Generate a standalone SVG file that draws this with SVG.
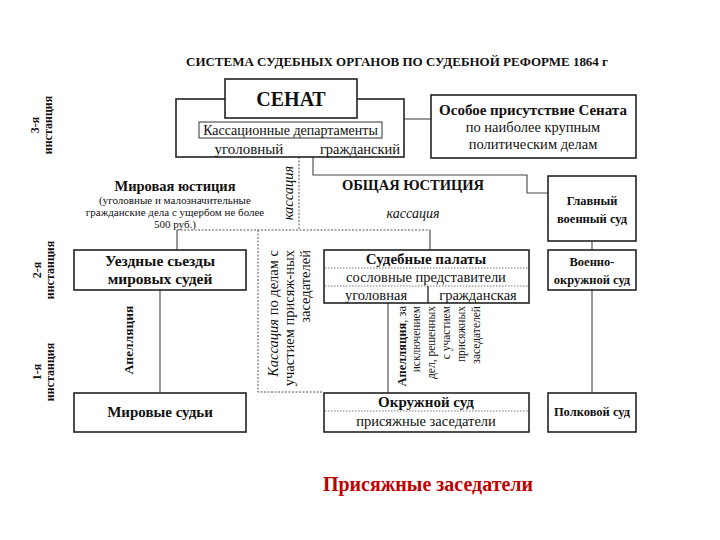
<svg xmlns="http://www.w3.org/2000/svg" width="720" height="540" viewBox="0 0 720 540">
<style>
.box{fill:#fff;stroke:#222;stroke-width:1.6}
.ln{fill:none;stroke:#444;stroke-width:1.1}
.dash{fill:none;stroke:#555;stroke-width:1;stroke-dasharray:2 1.5}
.dot{fill:none;stroke:#777;stroke-width:1;stroke-dasharray:1.5 1.5}
text{font-family:"Liberation Serif","Times New Roman",serif;fill:#111}
.b{font-weight:bold}
.c{text-anchor:middle}
.t15{font-size:15px}
.t14{font-size:14.5px}
.t13{font-size:12.5px}
.t12{font-size:12.5px}
.t11{font-size:11px}
.i{font-style:italic}
</style>
<rect width="720" height="540" fill="#fff"/>
<text x="397" y="66" class="b c t12" textLength="422" lengthAdjust="spacingAndGlyphs">СИСТЕМА СУДЕБНЫХ ОРГАНОВ ПО СУДЕБНОЙ РЕФОРМЕ 1864 г</text>

<g id="instance-labels" class="b" font-size="12">
<text transform="translate(39,125) rotate(-90)" class="c">3-я</text>
<text transform="translate(52,125) rotate(-90)" class="c">инстанция</text>
<text transform="translate(41,270) rotate(-90)" class="c">2-я</text>
<text transform="translate(54,270) rotate(-90)" class="c">инстанция</text>
<text transform="translate(41,372) rotate(-90)" class="c">1-я</text>
<text transform="translate(54,372) rotate(-90)" class="c">инстанция</text>
</g>

<g id="connectors">
<path class="ln" d="M313,138 V175 H527 V193 H548"/>
<path class="ln" d="M404,119 H431"/>
<path class="dash" d="M299,157 V230 M177,230 H430 M258,230 V392 H323"/>
<path class="ln" d="M177,230 V250 M430,230 V250"/>
<path class="ln" d="M160,290 V393"/>
<path class="ln" d="M388,303 V393"/>
<path class="ln" d="M592,241 V250 M592,290 V393"/>
</g>

<g id="senate">
<rect class="box" x="176" y="99" width="228" height="58"/>
<rect class="box" x="225" y="79" width="132" height="39"/>
<text x="291" y="106" class="b c" font-size="20">СЕНАТ</text>
<rect x="199" y="122" width="183" height="16" fill="#fff" stroke="#333" stroke-width="1"/>
<text x="290.5" y="135" class="c" font-size="14">Кассационные департаменты</text>
<text x="249" y="154" class="c" font-size="15">уголовный</text>
<text x="360" y="154" class="c" font-size="14.5">гражданский</text>
</g>

<g id="special-presence">
<rect class="box" x="431" y="95" width="205" height="63"/>
<text x="533" y="115" class="b c" font-size="15">Особое присутствие Сената</text>
<text x="533" y="132" class="c t14">по наиболее крупным</text>
<text x="533" y="149" class="c t14">политическим делам</text>
</g>

<g id="labels-mid">
<text transform="translate(293,193) rotate(-90)" class="c t14 i">кассация</text>
<text x="175" y="191" class="b c" font-size="14.5">Мировая юстиция</text>
<text x="175" y="204" class="c t11">(уголовные и малозначительные</text>
<text x="175" y="216" class="c t11">гражданские дела с ущербом не более</text>
<text x="175" y="228" class="c t11">500 руб.)</text>
<text x="413" y="190" class="b c" font-size="14.5">ОБЩАЯ ЮСТИЦИЯ</text>
<text x="413" y="218" class="c i" font-size="14">кассация</text>
<text transform="translate(133,340) rotate(-90)" class="b c" font-size="13.5">Апелляция</text>
</g>

<g id="cassation-jury" font-size="14.5">
<text transform="translate(278,250) rotate(-90)" text-anchor="end"><tspan class="i">Кассация</tspan> по делам с</text>
<text transform="translate(294,250) rotate(-90)" text-anchor="end">участием присяж-ных</text>
<text transform="translate(310,250) rotate(-90)" text-anchor="end">заседателей</text>
</g>

<g id="appeal-palaty" font-size="11.5">
<text transform="translate(406,306) rotate(-90)" text-anchor="end" font-size="12.5"><tspan class="b">Апелляция</tspan>, за</text>
<text transform="translate(420,306) rotate(-90)" text-anchor="end">исключением</text>
<text transform="translate(435,306) rotate(-90)" text-anchor="end">дел, решенных</text>
<text transform="translate(450,306) rotate(-90)" text-anchor="end">с участием</text>
<text transform="translate(465,306) rotate(-90)" text-anchor="end">присяжных</text>
<text transform="translate(480,306) rotate(-90)" text-anchor="end">заседателей</text>
</g>

<g id="main-military">
<rect class="box" x="548" y="176" width="88" height="65"/>
<text x="592" y="205" class="b c t13">Главный</text>
<text x="592" y="223" class="b c t13">военный суд</text>
</g>

<g id="uezd">
<rect class="box" x="74" y="250" width="172" height="40"/>
<text x="160" y="266" class="b c" font-size="15.5">Уездные сьезды</text>
<text x="160" y="284" class="b c" font-size="15.5">мировых судей</text>
</g>

<g id="palaty">
<rect class="box" x="324" y="250" width="205" height="53"/>
<text x="426" y="264" class="b c t15">Судебные палаты</text>
<path class="dot" d="M325,268 H528 M325,286 H528"/>
<text x="426" y="282" class="c t14">сословные представители</text>
<path d="M428,286 V303" stroke="#222" stroke-width="1.3"/>
<text x="376" y="299.5" class="c t14">уголовная</text>
<text x="478" y="299.5" class="c t14">гражданская</text>
</g>

<g id="voenno-okr">
<rect class="box" x="548" y="250" width="88" height="40"/>
<text x="592" y="266" class="b c t13">Военно-</text>
<text x="592" y="284" class="b c t13">окружной суд</text>
</g>

<g id="mirovye">
<rect class="box" x="74" y="393" width="172" height="39"/>
<text x="160" y="417" class="b c t15">Мировые судьи</text>
</g>

<g id="okruzhnoy">
<rect class="box" x="324" y="393" width="205" height="39"/>
<text x="426" y="407" class="b c t15">Окружной суд</text>
<path class="dot" d="M325,411 H528"/>
<text x="426" y="426" class="c t14">присяжные заседатели</text>
</g>

<g id="polkovoy">
<rect class="box" x="548" y="393" width="88" height="39"/>
<text x="592" y="416" class="b c t13">Полковой суд</text>
</g>

<text x="428" y="491" class="b c" font-size="20" style="fill:#c00000">Присяжные заседатели</text>
</svg>
